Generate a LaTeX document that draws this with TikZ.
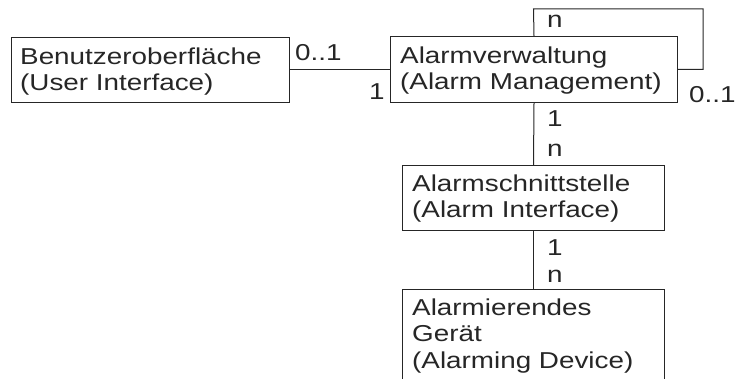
\documentclass[tikz,border=0pt]{standalone}
\usepackage{fontspec}
\setmainfont{Liberation Sans}[FakeStretch=1.21]
\begin{document}
\begin{tikzpicture}[x=1pt,y=-1pt,
  box/.style={draw=black!85, line width=1pt, inner sep=0pt, anchor=north west},
  txt/.style={anchor=base west, inner sep=0pt, align=left, font=\fontsize{23}{26.5}\selectfont, text=black!85},
  mult/.style={anchor=base west, inner sep=0pt, font=\fontsize{23}{26}\selectfont, text=black!85},
  conn/.style={draw=black!85, line width=1pt}]
\path[use as bounding box] (0,0) rectangle (738,379);
\clip (0,0) rectangle (738,379);
% boxes
\node[box, minimum width=278pt, minimum height=65pt] (ui) at (11,37) {};
\node[box, minimum width=287pt, minimum height=66pt] (am) at (390,36) {};
\node[box, minimum width=262pt, minimum height=65pt] (ai) at (402,165) {};
\node[box, minimum width=262pt, minimum height=111pt] (dev) at (402,289) {};
% texts (anchored at the baseline of their last line)
\node[txt] (uit) at (20,91) {Benutzeroberfläche\\(User Interface)};
\node[txt] (amt) at (400,90) {Alarmverwaltung\\(Alarm Management)};
\node[txt] (ait) at (412,218) {Alarmschnittstelle\\(Alarm Interface)};
\node[txt] (devt) at (412,368) {Alarmierendes\\Gerät\\(Alarming Device)};
% connectors
\draw[conn] (ui.east) -- (am.west |- ui.east);
\coordinate (l1) at (533.5,9);
\coordinate (l2) at (703,9);
\draw[conn] (am.north) -- (l1) -- (l2) -- (l2 |- am.east) -- (am.east);
\draw[conn] (am.south) -- (ai.north);
\draw[conn] (ai.south) -- (dev.north);
% multiplicities
\node[mult] (m1) at (295,61) {0..1};
\node[mult] (m2) at (369,100) {1};
\node[mult] (m3) at (547,28) {n};
\node[mult] (m4) at (689,103) {0..1};
\node[mult] (m5) at (547,127) {1};
\node[mult] (m6) at (547,157) {n};
\node[mult] (m7) at (547,255) {1};
\node[mult] (m8) at (547,282) {n};
\end{tikzpicture}
\end{document}
